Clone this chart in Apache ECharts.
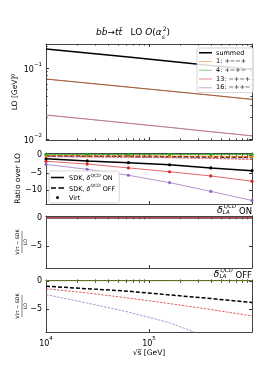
<!DOCTYPE html>
<html><head><meta charset="utf-8">
<script src="https://cdn.jsdelivr.net/npm/echarts@6/dist/echarts.min.js"></script>
<style>html,body{margin:0;padding:0;background:#fff}#c{width:266px;height:372px}</style>
</head><body><div id="c"></div>
<script>
// ---------- data ----------
const sqrtS = [1e4, 2.512e4, 6.310e4, 1.585e5, 3.981e5, 1e6];
const helNames = ['summed', '1: +−−+', '4: +−+−', '13: −+−+', '16: −++−'];
const helColors = ['#000000', '#ff7f0e', '#2ca02c', '#d62728', '#9467bd'];
const xMajorTicks = [1e4, 1e5, 1e6];
const xLabelTicks = [1e4, 1e5];
const xMinorTicks = [2e4,3e4,4e4,5e4,6e4,7e4,8e4,9e4,2e5,3e5,4e5,5e5,6e5,7e5,8e5,9e5];
const loMajorTicks = [0.01, 0.1];
const loMinorTicks = [0.02,0.03,0.04,0.05,0.06,0.07,0.08,0.09,0.2];
const linTicks = [-10, -5, 0];

// LO
const loSummed = [0.185, 0.163, 0.143, 0.125, 0.109, 0.096];
const lo1      = [0.0218, 0.0191, 0.0167, 0.0146, 0.0127, 0.0111];
const lo4      = [0.070, 0.0614, 0.0539, 0.0473, 0.0415, 0.0362];
const lo13     = [0.070, 0.0614, 0.0539, 0.0473, 0.0415, 0.0362];
const lo16     = [0.0218, 0.0191, 0.0167, 0.0146, 0.0127, 0.0111];

// ratio over LO: SDK with delta ON (solid)
const sdkOnSummed = [-1.0, -1.6, -2.1, -2.7, -3.6, -4.4];
const sdkOn1      = [-0.1, -0.12, -0.15, -0.2, -0.25, -0.3];
const sdkOn4      = [0.25, 0.25, 0.25, 0.25, 0.25, 0.25];
const sdkOn13     = [-1.7, -2.5, -3.6, -4.7, -5.9, -7.4];
const sdkOn16     = [-2.6, -4.0, -5.7, -7.8, -10.3, -12.9];
// SDK with delta OFF (dashed)
const sdkOffSummed = [-0.2, -0.25, -0.3, -0.4, -0.5, -0.6];
const sdkOff1      = [-0.2, -0.3, -0.35, -0.45, -0.55, -0.7];
const sdkOff4      = [0.25, 0.25, 0.25, 0.25, 0.25, 0.25];
const sdkOff13     = [-0.4, -0.5, -0.6, -0.7, -0.9, -1.2];
const sdkOff16     = [-0.3, -0.4, -0.5, -0.6, -0.8, -1.0];
// Virt (markers)
const virtSummed = [-1.0, -1.6, -2.1, -2.7, -3.6, -4.4];
const virt1      = [-0.1, -0.12, -0.15, -0.2, -0.25, -0.3];
const virt4      = [0.25, 0.25, 0.25, 0.25, 0.25, 0.25];
const virt13     = [-1.7, -2.5, -3.6, -4.7, -5.9, -7.4];
const virt16     = [-2.6, -4.0, -5.7, -7.8, -10.3, -12.9];
// (Virt - SDK)/LO, delta ON
const diffOnSummed = [0, 0, 0, 0, 0, 0];
const diffOn1      = [0, 0, 0, 0, 0, 0];
const diffOn4      = [0, 0, 0, 0, 0, 0];
const diffOn13     = [0, 0, 0, 0, 0, 0];
const diffOn16     = [0, 0, 0, 0, 0, 0];
// (Virt - SDK)/LO, delta OFF
const diffOffSummed = [-0.9, -1.35, -1.8, -2.45, -3.1, -3.8];
const diffOff1      = [0.05, 0.05, 0.05, 0.05, 0.05, 0.05];
const diffOff4      = [0.1, 0.1, 0.1, 0.1, 0.1, 0.1];
const diffOff13     = [-1.35, -2.1, -3.0, -4.0, -5.05, -6.2];
const diffOff16     = [-2.4, -3.9, -5.5, -7.4, -10.2, -13.0];

// ---------- layout ----------
const FF = 'DejaVu Sans';
const FRAME = '#444';
const grids = [
  {left: 46, top: 44, width: 206, height: 96},
  {left: 46, top: 153, width: 206, height: 51},
  {left: 46, top: 216, width: 206, height: 52},
  {left: 46, top: 280, width: 206, height: 52}
];
const yRanges = [[0.0097, 0.218], [-13.9, 0.65], [-8.9, 0.3], [-9.05, 0.2]];
const minus = v => (v < 0 ? '−' + (-v) : '' + v);
const richNum = {
  b: {fontSize: 8, fontFamily: FF, color: '#000', lineHeight: 12, verticalAlign: 'bottom'},
  s: {fontSize: 5.5, fontFamily: FF, color: '#000', lineHeight: 12, verticalAlign: 'top'},
  n: {fontSize: 8, fontFamily: FF, color: '#000'}
};

const xAxis = [], yAxis = [];
grids.forEach((g, gi) => {
  ['bottom', 'top'].forEach(pos => {
    xAxis.push({
      type: 'log', gridIndex: gi, position: pos, min: 1e4, max: 1e6,
      axisLine: {show: true, onZero: false, lineStyle: {color: FRAME, width: 1}},
      axisTick: {show: true, inside: true, length: 3, customValues: xMajorTicks, lineStyle: {color: '#333'}},
      axisLabel: {show: gi === 3 && pos === 'bottom', customValues: xLabelTicks, margin: 4,
        formatter: v => '{b|10}{s|' + Math.round(Math.log10(v)) + '}', rich: richNum},
      splitLine: {show: false},
      name: gi === 3 && pos === 'bottom' ? '√s\u0305 [GeV]' : '',
      nameLocation: 'middle', nameGap: 15,
      nameTextStyle: {fontSize: 7.5, fontFamily: FF, color: '#000'}
    });
    xAxis.push({
      type: 'log', gridIndex: gi, position: pos, min: 1e4, max: 1e6,
      axisLine: {show: false},
      axisTick: {show: true, inside: true, length: 1.6, customValues: xMinorTicks, lineStyle: {color: '#333'}},
      axisLabel: {show: false}, splitLine: {show: false}
    });
  });
  const isLog = gi === 0;
  ['left', 'right'].forEach(pos => {
    yAxis.push({
      type: isLog ? 'log' : 'value', gridIndex: gi, position: pos,
      min: yRanges[gi][0], max: yRanges[gi][1],
      axisLine: {show: true, onZero: false, lineStyle: {color: FRAME, width: 1}},
      axisTick: {show: true, inside: true, length: 3, customValues: isLog ? loMajorTicks : linTicks, lineStyle: {color: '#333'}},
      axisLabel: {show: pos === 'left', customValues: isLog ? loMajorTicks : linTicks.filter(v => v >= yRanges[gi][0]), margin: 4,
        formatter: isLog ? (v => '{b|10}{s|−' + Math.round(-Math.log10(v)) + '}') : (v => '{n|' + minus(v) + '}'),
        rich: richNum},
      splitLine: {show: false}
    });
    yAxis.push({
      type: isLog ? 'log' : 'value', gridIndex: gi, position: pos,
      min: yRanges[gi][0], max: yRanges[gi][1],
      axisLine: {show: false},
      axisTick: {show: isLog, inside: true, length: 1.6, customValues: isLog ? loMinorTicks : [], lineStyle: {color: '#333'}},
      axisLabel: {show: false}, splitLine: {show: false}
    });
  });
});

const pts = arr => sqrtS.map((x, i) => [x, arr[i]]);
function line(name, gi, arr, ci, dashed) {
  const black = ci === 0;
  return {
    type: 'line', name: name, xAxisIndex: gi * 4, yAxisIndex: gi * 4,
    data: pts(arr), symbol: 'none', silent: true, animation: false,
    lineStyle: {color: helColors[ci], width: black ? 1.5 : 1, opacity: black ? 1 : 0.7,
      type: dashed ? (black ? [4, 2] : [2.5, 1.2]) : 'solid'},
    itemStyle: {color: helColors[ci]}
  };
}
function marks(name, gi, arr, ci) {
  return {
    type: 'line', name: name, xAxisIndex: gi * 4, yAxisIndex: gi * 4,
    data: pts(arr), symbol: 'circle', symbolSize: 3.2, showSymbol: true, silent: true, animation: false,
    lineStyle: {width: 0, opacity: 0, color: helColors[ci]},
    itemStyle: {color: helColors[ci], opacity: 1, borderWidth: 0}
  };
}

const loArr = [loSummed, lo1, lo4, lo13, lo16];
const onArr = [sdkOnSummed, sdkOn1, sdkOn4, sdkOn13, sdkOn16];
const offArr = [sdkOffSummed, sdkOff1, sdkOff4, sdkOff13, sdkOff16];
const virtArr = [virtSummed, virt1, virt4, virt13, virt16];
const dOnArr = [diffOnSummed, diffOn1, diffOn4, diffOn13, diffOn16];
const dOffArr = [diffOffSummed, diffOff1, diffOff4, diffOff13, diffOff16];

const series = [];
helNames.forEach((n, ci) => series.push(line(n, 0, loArr[ci], ci, false)));
helNames.forEach((n, ci) => {
  series.push(line(ci === 0 ? 'SDK ON' : 'on ' + n, 1, onArr[ci], ci, false));
  series.push(line(ci === 0 ? 'SDK OFF' : 'off ' + n, 1, offArr[ci], ci, true));
  series.push(marks(ci === 0 ? 'Virt' : 'virt ' + n, 1, virtArr[ci], ci));
});
[0, 1, 2, 4, 3].forEach(ci => series.push(line('don ' + helNames[ci], 2, dOnArr[ci], ci, false)));
helNames.forEach((n, ci) => series.push(line('doff ' + n, 3, dOffArr[ci], ci, true)));

// legend icons (bounding points extend the box so the stroke sits in the middle)
const ext = (w, h) => 'M0,0h0.01v0.01h-0.01zM' + (w - 0.01) + ',' + (h - 0.01) + 'h0.01v0.01h-0.01z';
const solidIcon = (w, h, t) => 'path://' + ext(w, h) + 'M0,' + (h / 2 - t / 2) + 'h' + w + 'v' + t + 'h-' + w + 'z';
const dashIcon = (w, h, t) => 'path://' + ext(w, h) +
  'M0,' + (h / 2 - t / 2) + 'h5v' + t + 'h-5z' +
  'M7.5,' + (h / 2 - t / 2) + 'h5.5v' + t + 'h-5.5z';
const dotIcon = (w, h, r) => 'path://' + ext(w, h) +
  'M' + (w / 2 - r) + ',' + (h / 2) + 'a' + r + ',' + r + ' 0 1,0 ' + (2 * r) + ',0a' + r + ',' + r + ' 0 1,0 ' + (-2 * r) + ',0z';

const legRich = {
  t: {fontSize: 6.5, fontFamily: FF, color: '#000', lineHeight: 9, verticalAlign: 'bottom'},
  d: {fontSize: 6.5, fontFamily: FF, fontStyle: 'italic', color: '#000', lineHeight: 9, verticalAlign: 'bottom'},
  q: {fontSize: 4.5, fontFamily: FF, color: '#000', lineHeight: 9, verticalAlign: 'top'}
};

const option = {
  animation: false,
  backgroundColor: '#fff',
  grid: grids,
  xAxis: xAxis,
  yAxis: yAxis,
  series: series,
  legend: [
    {
      data: helNames.map((n, ci) => ({name: n, icon: solidIcon(13, 7, ci === 0 ? 1.5 : 1),
        itemStyle: {color: helColors[ci], opacity: ci === 0 ? 1 : 0.55}})),
      left: 197, top: 48, orient: 'vertical', selectedMode: false,
      itemWidth: 13, itemHeight: 7, itemGap: 1.0, padding: [1, 3, 1, 2],
      borderColor: '#ccc', borderWidth: 0.8, borderRadius: 2, backgroundColor: 'rgba(255,255,255,0.85)',
      textStyle: {fontSize: 6.5, fontFamily: FF, color: '#000', lineHeight: 7.7, padding: [0, 0, 0, -1]}
    },
    {
      data: [
        {name: 'SDK ON', icon: solidIcon(13, 7, 1.5), itemStyle: {color: '#000'}},
        {name: 'SDK OFF', icon: dashIcon(13, 7, 1.5), itemStyle: {color: '#000'}},
        {name: 'Virt', icon: dotIcon(13, 7, 1.5), itemStyle: {color: '#000'}}
      ],
      left: 49, top: 171, orient: 'vertical', selectedMode: false,
      itemWidth: 13, itemHeight: 7, itemGap: 1.5, padding: [2, 4, 1, 2],
      borderColor: '#ccc', borderWidth: 0.8, borderRadius: 2, backgroundColor: 'rgba(255,255,255,0.85)',
      textStyle: {fontSize: 6.5, fontFamily: FF, color: '#000', rich: legRich},
      formatter: n => n === 'Virt' ? '{t|Virt}' : '{t|SDK, }{d|δ}{q|QCD}{t| ' + (n === 'SDK ON' ? 'ON' : 'OFF') + '}'
    }
  ],
  graphic: [
    {type: 'text', left: 'center', top: 26, style: {
      text: '{i|bb\u0304}{n|→}{i|tt\u0304}{n|   LO }{i|O}{n|(}{i|α}{sb|s}{sp|2}{n|)}',
      rich: {
        i: {fontSize: 9, fontFamily: FF, fontStyle: 'italic', lineHeight: 14, verticalAlign: 'middle'},
        n: {fontSize: 9, fontFamily: FF, lineHeight: 14, verticalAlign: 'middle'},
        sb: {fontSize: 6, fontFamily: FF, fontStyle: 'italic', lineHeight: 14, verticalAlign: 'bottom', width: 1},
        sp: {fontSize: 6, fontFamily: FF, lineHeight: 14, verticalAlign: 'top'}
      }}},
    {type: 'text', x: 15, y: 92, rotation: Math.PI / 2, style: {
      text: 'LO [GeV]⁰', fontSize: 7.5, fontFamily: FF, fill: '#000', align: 'center', verticalAlign: 'middle'}},
    {type: 'text', x: 18, y: 178.5, rotation: Math.PI / 2, style: {
      text: 'Ratio over LO', fontSize: 7.5, fontFamily: FF, fill: '#000', align: 'center', verticalAlign: 'middle'}},
    ...[242, 306].map(cy => ({
      type: 'group', x: 22, y: cy, rotation: Math.PI / 2, children: [
        {type: 'text', x: 0, y: -1.5, style: {text: 'Virt − SDK', fontSize: 4.8, fontFamily: FF, fill: '#000', align: 'center', verticalAlign: 'bottom'}},
        {type: 'line', shape: {x1: -11, y1: 0, x2: 11, y2: 0}, style: {stroke: '#000', lineWidth: 0.5}},
        {type: 'text', x: 0, y: 1, style: {text: 'LO', fontSize: 4.8, fontFamily: FF, fill: '#000', align: 'center', verticalAlign: 'top'}}
      ]})),
    ...[['ON', 215], ['OFF', 279]].map(([lab, yb]) => ({
      type: 'text', right: 14, top: yb - 11, style: {
        text: '{d|δ}{sb|LA}{sp|QCD}{n| ' + lab + '}',
        rich: {
          d: {fontSize: 9.5, fontFamily: FF, fontStyle: 'italic', lineHeight: 12, verticalAlign: 'bottom'},
          sb: {fontSize: 5.5, fontFamily: FF, fontStyle: 'italic', lineHeight: 12, verticalAlign: 'bottom', width: 1},
          sp: {fontSize: 5.5, fontFamily: FF, fontStyle: 'italic', lineHeight: 12, verticalAlign: 'top'},
          n: {fontSize: 8.5, fontFamily: FF, lineHeight: 12, verticalAlign: 'bottom'}
        }}}))
  ]
};
const chart = echarts.init(document.getElementById('c'), null, {renderer: 'canvas'});
chart.setOption(option);
</script>
</body></html>
